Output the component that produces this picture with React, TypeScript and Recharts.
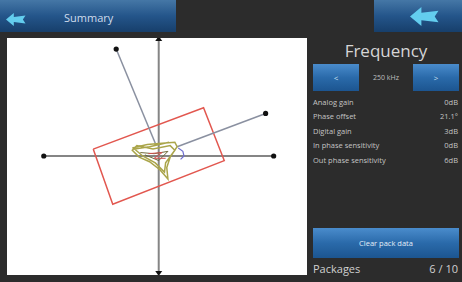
import React from 'react'
import { ScatterChart, Scatter, XAxis, YAxis } from 'recharts'

// vector plot data (unit = full axis length)
const axisH = [
  { x: -1, y: 0 },
  { x: 1, y: 0 },
]
const axisV = [
  { x: 0, y: -1 },
  { x: 0, y: 1 },
]
const vectorIn = [
  { x: 0.16, y: 0.08 },
  { x: 0.93, y: 0.37 },
]
const vectorOut = [
  { x: -0.03, y: 0.11 },
  { x: -0.37, y: 0.93 },
]
const limitBox = [
  { x: -0.57, y: 0.06 },
  { x: 0.39, y: 0.42 },
  { x: 0.57, y: -0.04 },
  { x: -0.4, y: -0.42 },
  { x: -0.57, y: 0.06 },
]
const trace = [
  { x: -0.23, y: 0.07 },
  { x: -0.1, y: 0.1 },
  { x: 0.03, y: 0.11 },
  { x: 0.14, y: 0.12 },
  { x: 0.16, y: 0.08 },
  { x: 0.1, y: -0.01 },
  { x: 0.07, y: -0.1 },
  { x: 0.08, y: -0.2 },
  { x: 0.01, y: -0.12 },
  { x: -0.08, y: -0.05 },
  { x: -0.17, y: -0.01 },
  { x: -0.23, y: 0.05 },
  { x: -0.19, y: 0.09 },
  { x: -0.05, y: 0.06 },
  { x: 0.1, y: 0.09 },
  { x: 0.14, y: 0.05 },
  { x: 0.06, y: -0.06 },
  { x: 0.05, y: -0.14 },
  { x: -0.03, y: -0.06 },
  { x: -0.14, y: 0.0 },
  { x: -0.21, y: 0.06 },
  { x: -0.08, y: 0.08 },
  { x: 0.09, y: 0.12 },
]
const traceInner = [
  { x: -0.16, y: 0.03 },
  { x: -0.04, y: 0.02 },
  { x: 0.08, y: 0.04 },
  { x: 0.0, y: -0.04 },
  { x: -0.12, y: 0.01 },
]
const traceBlue = [
  { x: 0.17, y: 0.07 },
  { x: 0.21, y: 0.04 },
  { x: 0.22, y: 0.0 },
  { x: 0.19, y: -0.03 },
]
const traceRed = [
  { x: -0.09, y: 0.02 },
  { x: 0.03, y: 0.03 },
  { x: -0.04, y: -0.02 },
  { x: 0.06, y: -0.02 },
]

const settingLabels = [
  'Analog gain',
  'Phase offset',
  'Digital gain',
  'In phase sensitivity',
  'Out phase sensitivity',
]
const settingValues = ['0dB', '21.1°', '3dB', '0dB', '6dB']
const frequency = '250 kHz'
const packages = { current: 6, total: 10 }

const FONT = '"Open Sans", "DejaVu Sans", sans-serif'
const BAR_BLUE = 'linear-gradient(to bottom, #4577a6 0%, #24558a 50%, #173f6b 100%)'
const BTN_BLUE = 'linear-gradient(to bottom, #4a8ccc 0%, #2a6aaa 50%, #1c5590 100%)'

const none = () => <g />

function endDot(last: { x: number; y: number }) {
  return (props: any) => {
    const { cx, cy, payload } = props
    if (payload.x !== last.x || payload.y !== last.y) return <g />
    return <circle cx={cx} cy={cy} r={2.6} fill="#111" />
  }
}

const bothDots = (props: any) => <circle cx={props.cx} cy={props.cy} r={2.6} fill="#111" />

const arrowHead = (props: any) => {
  const { cx, cy, payload } = props
  const d = payload.y > 0 ? -1 : 1
  return (
    <path
      d={`M${cx - 3.5},${cy} L${cx + 3.5},${cy} L${cx},${cy + d * 5} Z`}
      fill="#111"
    />
  )
}

function Arrow({ x, y, size }: { x: number; y: number; size: number }) {
  const s = size
  return (
    <svg
      width={s * 1.6}
      height={s}
      style={{ position: 'absolute', left: x, top: y }}
      viewBox="0 0 16 10"
    >
      <path d="M0,5 L6,0 L6,3 L15,2 L13,5 L15,8 L6,7 L6,10 Z" fill="#63cdee" />
    </svg>
  )
}

export default function App() {
  return (
    <div
      style={{
        position: 'absolute',
        left: 0,
        top: 0,
        width: 462,
        height: 282,
        background: '#2c2c2c',
        fontFamily: FONT,
        overflow: 'hidden',
      }}
    >
      {/* top bar */}
      <div style={{ position: 'absolute', left: 0, top: 0, width: 176, height: 32, background: BAR_BLUE }} />
      <Arrow x={6} y={13} size={13} />
      <div
        style={{
          position: 'absolute',
          left: 64,
          top: 10,
          fontSize: 11,
          color: '#cfdcec',
        }}
      >
        Summary
      </div>
      <div style={{ position: 'absolute', left: 374, top: 0, width: 88, height: 32, background: BAR_BLUE }} />
      <Arrow x={410} y={7} size={19} />

      {/* plot */}
      <div
        style={{
          position: 'absolute',
          left: 7,
          top: 38,
          width: 300,
          height: 237,
          background: '#ffffff',
        }}
      >
        <ScatterChart width={300} height={237} margin={{ top: 0, right: 0, bottom: 0, left: 0 }}>
          <XAxis type="number" dataKey="x" domain={[-1.32, 1.29]} hide allowDataOverflow />
          <YAxis type="number" dataKey="y" domain={[-1.035, 1.026]} hide allowDataOverflow />
          <Scatter data={axisH} line={{ stroke: '#858585', strokeWidth: 2 }} shape={bothDots} isAnimationActive={false} />
          <Scatter data={axisV} line={{ stroke: '#858585', strokeWidth: 2 }} shape={arrowHead} isAnimationActive={false} />
          <Scatter data={limitBox} line={{ stroke: '#e2574f', strokeWidth: 1.5 }} shape={none} isAnimationActive={false} />
          <Scatter data={vectorOut} line={{ stroke: '#8a90a0', strokeWidth: 1.5 }} shape={endDot(vectorOut[1])} isAnimationActive={false} />
          <Scatter data={vectorIn} line={{ stroke: '#8a90a0', strokeWidth: 1.5 }} shape={endDot(vectorIn[1])} isAnimationActive={false} />
          <Scatter data={trace} line={{ stroke: '#aaa54a', strokeWidth: 1.5 }} shape={none} isAnimationActive={false} />
          <Scatter data={traceInner} line={{ stroke: '#6f6a3a', strokeWidth: 1 }} shape={none} isAnimationActive={false} />
          <Scatter data={traceBlue} line={{ stroke: '#7070d0', strokeWidth: 1.2 }} shape={none} isAnimationActive={false} />
          <Scatter data={traceRed} line={{ stroke: '#d05050', strokeWidth: 1 }} shape={none} isAnimationActive={false} />
        </ScatterChart>
      </div>

      {/* right panel */}
      <div
        style={{
          position: 'absolute',
          left: 312,
          top: 39,
          width: 148,
          textAlign: 'center',
          fontSize: 17,
          color: '#d6d6d6',
        }}
      >
        Frequency
      </div>
      <div
        style={{
          position: 'absolute', left: 313, top: 64, width: 46, height: 27, background: BTN_BLUE,
          color: '#cfe0f0', fontSize: 8, textAlign: 'center', lineHeight: '27px',
        }}
      >
        &lt;
      </div>
      <div
        style={{
          position: 'absolute', left: 359, top: 64, width: 54, height: 27,
          color: '#bfbfbf', fontSize: 7, textAlign: 'center', lineHeight: '27px',
        }}
      >
        {frequency}
      </div>
      <div
        style={{
          position: 'absolute', left: 413, top: 64, width: 46, height: 27, background: BTN_BLUE,
          color: '#cfe0f0', fontSize: 8, textAlign: 'center', lineHeight: '27px',
        }}
      >
        &gt;
      </div>
      {settingLabels.map((label, i) => (
        <div
          key={label}
          style={{
            position: 'absolute',
            left: 313,
            top: 97 + i * 14.4,
            width: 145,
            height: 12,
            fontSize: 7.5,
            color: '#c4c4c4',
            display: 'flex',
            justifyContent: 'space-between',
          }}
        >
          <span>{label}</span>
          <span>{settingValues[i]}</span>
        </div>
      ))}
      <div
        style={{
          position: 'absolute', left: 313, top: 228, width: 146, height: 30, background: BTN_BLUE,
          color: '#e4eef8', fontSize: 7.5, textAlign: 'center', lineHeight: '30px',
        }}
      >
        Clear pack data
      </div>
      <div
        style={{
          position: 'absolute',
          left: 313,
          top: 261,
          width: 145,
          fontSize: 11,
          color: '#d0d0d0',
          display: 'flex',
          justifyContent: 'space-between',
        }}
      >
        <span>Packages</span>
        <span>
          {packages.current} / {packages.total}
        </span>
      </div>
    </div>
  )
}
